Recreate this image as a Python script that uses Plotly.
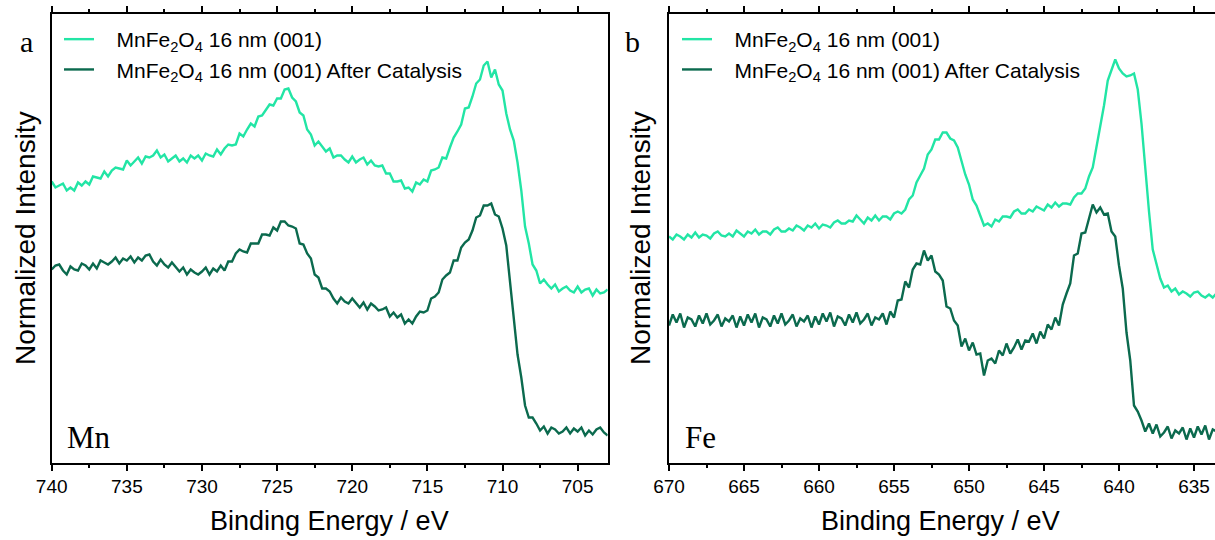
import plotly.graph_objects as go

# ---- Mn 2p region (0.25 eV steps) ---------------------------------------
mn_energy = [
    740.00, 739.75, 739.50, 739.25, 739.00, 738.75, 738.50, 738.25, 738.00, 737.75,
    737.50, 737.25, 737.00, 736.75, 736.50, 736.25, 736.00, 735.75, 735.50, 735.25,
    735.00, 734.75, 734.50, 734.25, 734.00, 733.75, 733.50, 733.25, 733.00, 732.75,
    732.50, 732.25, 732.00, 731.75, 731.50, 731.25, 731.00, 730.75, 730.50, 730.25,
    730.00, 729.75, 729.50, 729.25, 729.00, 728.75, 728.50, 728.25, 728.00, 727.75,
    727.50, 727.25, 727.00, 726.75, 726.50, 726.25, 726.00, 725.75, 725.50, 725.25,
    725.00, 724.75, 724.50, 724.25, 724.00, 723.75, 723.50, 723.25, 723.00, 722.75,
    722.50, 722.25, 722.00, 721.75, 721.50, 721.25, 721.00, 720.75, 720.50, 720.25,
    720.00, 719.75, 719.50, 719.25, 719.00, 718.75, 718.50, 718.25, 718.00, 717.75,
    717.50, 717.25, 717.00, 716.75, 716.50, 716.25, 716.00, 715.75, 715.50, 715.25,
    715.00, 714.75, 714.50, 714.25, 714.00, 713.75, 713.50, 713.25, 713.00, 712.75,
    712.50, 712.25, 712.00, 711.75, 711.50, 711.25, 711.00, 710.75, 710.50, 710.25,
    710.00, 709.75, 709.50, 709.25, 709.00, 708.75, 708.50, 708.25, 708.00, 707.75,
    707.50, 707.25, 707.00, 706.75, 706.50, 706.25, 706.00, 705.75, 705.50, 705.25,
    705.00, 704.75, 704.50, 704.25, 704.00, 703.75, 703.50, 703.25, 703.00]

mn_fresh = [
    281, 275, 277, 279, 272, 275, 272, 280, 277, 281,
    278, 286, 285, 284, 291, 286, 292, 295, 294, 293,
    302, 297, 301, 305, 299, 306, 305, 307, 312, 305,
    308, 301, 304, 307, 301, 304, 300, 307, 304, 307,
    302, 309, 307, 306, 313, 308, 314, 318, 317, 318,
    329, 326, 333, 339, 336, 346, 347, 352, 358, 357,
    364, 364, 373, 374, 365, 361, 350, 347, 333, 328,
    317, 321, 316, 311, 314, 305, 307, 307, 303, 300,
    306, 300, 303, 305, 298, 302, 297, 296, 297, 289,
    289, 281, 281, 282, 274, 275, 271, 280, 278, 283,
    281, 292, 293, 295, 305, 304, 315, 325, 331, 338,
    354, 355, 366, 379, 383, 397, 401, 385, 393, 378,
    372, 349, 333, 322, 300, 272, 236, 219, 198, 192,
    179, 183, 178, 174, 178, 171, 174, 176, 172, 170,
    176, 170, 173, 174, 167, 173, 169, 170, 173]

mn_after = [
    193, 197, 198, 192, 188, 196, 193, 192, 199, 197,
    193, 199, 194, 202, 200, 198, 201, 205, 199, 204,
    202, 206, 200, 205, 202, 207, 208, 201, 197, 203,
    198, 195, 200, 196, 191, 195, 188, 193, 190, 188,
    191, 195, 188, 194, 191, 197, 192, 201, 201, 209,
    213, 211, 210, 219, 219, 219, 228, 228, 227, 235,
    232, 241, 241, 237, 236, 234, 219, 218, 209, 204,
    188, 185, 174, 174, 171, 164, 159, 165, 161, 159,
    164, 160, 155, 160, 153, 159, 156, 152, 153, 155,
    146, 150, 145, 148, 139, 143, 139, 146, 151, 150,
    152, 164, 166, 170, 183, 187, 190, 202, 202, 215,
    220, 223, 232, 245, 247, 257, 257, 259, 248, 246,
    234, 217, 179, 139, 108, 85, 57, 45, 45, 39,
    32, 36, 29, 35, 33, 29, 31, 35, 29, 34,
    31, 35, 27, 32, 28, 33, 35, 30, 27]

# ---- Fe 2p region (0.25 eV steps) ---------------------------------------
fe_energy = [
    670.00, 669.75, 669.50, 669.25, 669.00, 668.75, 668.50, 668.25, 668.00, 667.75,
    667.50, 667.25, 667.00, 666.75, 666.50, 666.25, 666.00, 665.75, 665.50, 665.25,
    665.00, 664.75, 664.50, 664.25, 664.00, 663.75, 663.50, 663.25, 663.00, 662.75,
    662.50, 662.25, 662.00, 661.75, 661.50, 661.25, 661.00, 660.75, 660.50, 660.25,
    660.00, 659.75, 659.50, 659.25, 659.00, 658.75, 658.50, 658.25, 658.00, 657.75,
    657.50, 657.25, 657.00, 656.75, 656.50, 656.25, 656.00, 655.75, 655.50, 655.25,
    655.00, 654.75, 654.50, 654.25, 654.00, 653.75, 653.50, 653.25, 653.00, 652.75,
    652.50, 652.25, 652.00, 651.75, 651.50, 651.25, 651.00, 650.75, 650.50, 650.25,
    650.00, 649.75, 649.50, 649.25, 649.00, 648.75, 648.50, 648.25, 648.00, 647.75,
    647.50, 647.25, 647.00, 646.75, 646.50, 646.25, 646.00, 645.75, 645.50, 645.25,
    645.00, 644.75, 644.50, 644.25, 644.00, 643.75, 643.50, 643.25, 643.00, 642.75,
    642.50, 642.25, 642.00, 641.75, 641.50, 641.25, 641.00, 640.75, 640.50, 640.25,
    640.00, 639.75, 639.50, 639.25, 639.00, 638.75, 638.50, 638.25, 638.00, 637.75,
    637.50, 637.25, 637.00, 636.75, 636.50, 636.25, 636.00, 635.75, 635.50, 635.25,
    635.00, 634.75, 634.50, 634.25, 634.00, 633.75, 633.50]

fe_fresh = [
    226, 223, 228, 226, 223, 228, 225, 230, 225, 228,
    227, 224, 229, 231, 227, 226, 229, 226, 232, 229,
    226, 231, 229, 233, 228, 231, 231, 228, 233, 235,
    231, 231, 234, 232, 237, 235, 232, 237, 235, 239,
    234, 238, 237, 235, 240, 242, 239, 239, 242, 241,
    247, 243, 239, 245, 242, 247, 242, 246, 246, 243,
    249, 251, 249, 253, 263, 267, 280, 287, 294, 308,
    313, 323, 323, 330, 330, 324, 322, 315, 301, 288,
    278, 263, 257, 246, 237, 239, 236, 243, 241, 246,
    246, 245, 251, 253, 249, 249, 253, 251, 256, 254,
    252, 258, 255, 260, 256, 259, 259, 258, 265, 269,
    269, 274, 286, 295, 316, 335, 357, 382, 392, 403,
    394, 389, 386, 387, 389, 373, 339, 293, 251, 213,
    197, 184, 175, 177, 171, 174, 168, 171, 169, 166,
    170, 171, 167, 165, 168, 165, 169]

fe_after = [
    137, 148, 140, 149, 135, 145, 143, 136, 147, 139,
    149, 138, 142, 148, 136, 144, 141, 147, 135, 146,
    137, 148, 140, 149, 135, 145, 143, 136, 147, 139,
    149, 138, 142, 148, 136, 144, 141, 147, 135, 146,
    138, 149, 141, 150, 136, 146, 144, 137, 148, 140,
    150, 139, 143, 149, 137, 145, 143, 149, 138, 151,
    145, 162, 163, 181, 175, 193, 199, 198, 212, 202,
    207, 191, 188, 182, 156, 154, 142, 137, 116, 124,
    112, 120, 108, 109, 87, 102, 104, 99, 112, 107,
    119, 109, 115, 123, 113, 122, 121, 129, 119, 131,
    124, 138, 133, 145, 137, 158, 169, 179, 207, 209,
    229, 230, 244, 258, 250, 255, 248, 249, 231, 226,
    197, 174, 130, 102, 57, 51, 42, 31, 39, 29,
    38, 26, 30, 36, 24, 32, 29, 35, 23, 34,
    25, 36, 28, 37, 23, 33, 31]

W, H = 1215, 540
LIGHT = "#22E5A5"
DARK = "#0B6A4E"
SANS = "Liberation Sans, Arial, sans-serif"
SERIF = "Liberation Serif, Times New Roman, serif"
PAD = "&nbsp;&nbsp;&nbsp;"
name_fresh = PAD + "MnFe<sub>2</sub>O<sub>4</sub> 16 nm (001)"
name_after = PAD + "MnFe<sub>2</sub>O<sub>4</sub> 16 nm (001) After Catalysis"


def px(x):
    return x / W


def py(y):
    return 1 - y / H


fig = go.Figure()
panels = [
    (mn_energy, mn_fresh, mn_after, "x", "y", "legend"),
    (fe_energy, fe_fresh, fe_after, "x2", "y2", "legend2"),
]
for energy, fresh, after, xa, ya, lg in panels:
    fig.add_trace(go.Scatter(x=energy, y=fresh, mode="lines", name=name_fresh,
                             line=dict(color=LIGHT, width=2.4),
                             xaxis=xa, yaxis=ya, legend=lg, legendgroup="g1"))
    fig.add_trace(go.Scatter(x=energy, y=after, mode="lines", name=name_after,
                             line=dict(color=DARK, width=2.4),
                             xaxis=xa, yaxis=ya, legend=lg, legendgroup="g2"))

y_dom = [py(462.5), py(13.5)]
left_dom = [px(51.7), px(607.7)]
right_dom = [px(669), 1.0]
mn_range = [740, 703]
fe_range = [670, 670 - (W - 669) / 15.0]


def bottom_axis(dom, rng, anchor):
    return dict(domain=dom, range=rng, anchor=anchor, automargin=False,
                showline=True, linewidth=2, linecolor="black", mirror="ticks",
                ticks="outside", ticklen=6, tickwidth=2, tickcolor="black",
                tick0=0, dtick=5,
                minor=dict(ticks="outside", ticklen=3, tickwidth=2,
                           tickcolor="black", dtick=2.5),
                tickfont=dict(family=SANS, size=19, color="black"),
                showgrid=False, zeroline=False)


def left_axis(anchor, mirror):
    return dict(domain=y_dom, range=[0, 449], anchor=anchor, automargin=False,
                showline=True, linewidth=2, linecolor="black", mirror=mirror,
                ticks="", showticklabels=False, showgrid=False, zeroline=False)


legend_common = dict(bgcolor="rgba(0,0,0,0)",
                     font=dict(family=SANS, size=21, color="black"),
                     xanchor="left", yanchor="top", traceorder="grouped",
                     tracegroupgap=0, itemwidth=30)

annotations = [
    dict(text="a", x=px(26), y=py(42), font=dict(family=SERIF, size=30)),
    dict(text="b", x=px(632), y=py(42), font=dict(family=SERIF, size=30)),
    dict(text="Mn", x=px(65), y=py(437), xanchor="left", font=dict(family=SERIF, size=31)),
    dict(text="Fe", x=px(683), y=py(437), xanchor="left", font=dict(family=SERIF, size=31)),
    dict(text="Binding Energy / eV", x=px(329), y=py(521), font=dict(family=SANS, size=27)),
    dict(text="Binding Energy / eV", x=px(940), y=py(521), font=dict(family=SANS, size=27)),
    dict(text="Normalized Intensity", x=px(25), y=py(238), textangle=-90,
         font=dict(family=SANS, size=28)),
    dict(text="Normalized Intensity", x=px(640), y=py(238), textangle=-90,
         font=dict(family=SANS, size=28)),
]
for a in annotations:
    a.update(xref="paper", yref="paper", showarrow=False)
    a.setdefault("xanchor", "center")
    a["yanchor"] = "middle"
    a["font"]["color"] = "black"

fig.update_layout(
    template="none",
    width=W, height=H,
    margin=dict(l=0, r=0, t=0, b=0, pad=0),
    font=dict(family=SANS, color="black"),
    paper_bgcolor="white", plot_bgcolor="white",
    xaxis=bottom_axis(left_dom, mn_range, "y"),
    xaxis2=bottom_axis(right_dom, fe_range, "y2"),
    yaxis=left_axis("x", True),
    yaxis2=left_axis("x2", False),
    legend=dict(x=px(59), y=py(19), **legend_common),
    legend2=dict(x=px(677), y=py(19), **legend_common),
    annotations=annotations,
    showlegend=True,
)

fig.write_html("out.html")
